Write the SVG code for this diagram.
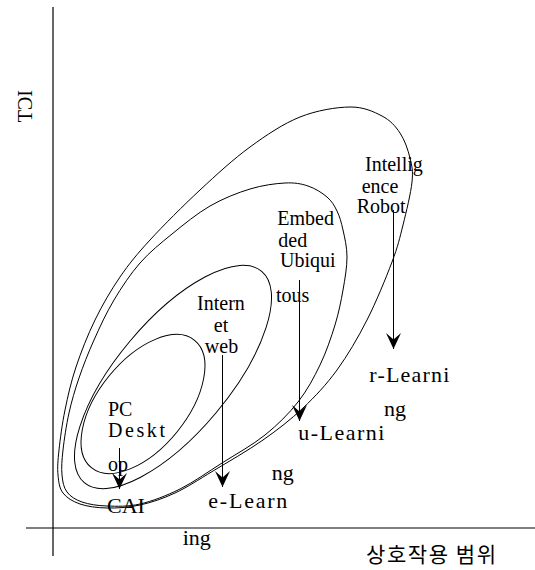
<svg xmlns="http://www.w3.org/2000/svg" width="535" height="570" viewBox="0 0 535 570">
<style>
.c{fill:none;stroke:#000;stroke-width:1}
.ax{fill:none;stroke:#000;stroke-width:1.2}
.ar{fill:none;stroke:#000;stroke-width:1;marker-end:url(#ah)}
.t{font-family:"Liberation Serif","Times New Roman",serif;font-size:20px;fill:#000}
.b{font-size:22px}
.k{font-family:"Noto Sans CJK KR","Noto Sans",sans-serif;font-size:21px;fill:#000}
</style>
<defs>
<marker id="ah" markerUnits="userSpaceOnUse" markerWidth="18" markerHeight="18" viewBox="-17 -9 18 18" refX="0" refY="0" orient="auto">
<path d="M0,0 L-16,-7.5 L-9.5,0 L-16,7.5 Z" fill="#000"/>
</marker>
</defs>
<g id="axes">
<line class="ax" x1="53" y1="7" x2="53" y2="556"/>
<line class="ax" x1="26" y1="528" x2="535" y2="528"/>
<text class="t" transform="matrix(0 1 1 0 31.5 90)" font-size="27">ICT</text>
<text class="k" x="366" y="562" textLength="130">상호작용 범위</text>
</g>
<g id="r-learning">
<path class="c" d="M350,107 C363.67,106.83 373.67,111.67 382,116 C390.33,120.33 395.33,126 400,133 C404.67,140 408,149.83 410,158 C412,166.17 413.17,170.83 412,182 C410.83,193.17 406.33,211.67 403,225 C399.67,238.33 398,246.17 392,262 C386,277.83 376.17,302 367,320 C357.83,338 347.67,355.33 337,370 C326.33,384.67 315.33,396.33 303,408 C290.67,419.67 278,429.5 263,440 C248,450.5 227.67,462.17 213,471 C198.33,479.83 187.17,487.33 175,493 C162.83,498.67 151.33,502.5 140,505 C128.67,507.5 117,508.17 107,508 C97,507.83 87.33,506.5 80,504 C72.67,501.5 66.67,497.83 63,493 C59.33,488.17 58.67,482.17 58,475 C57.33,467.83 57.83,460.83 59,450 C60.17,439.17 62.17,423.83 65,410 C67.83,396.17 71,382 76,367 C81,352 87.67,335 95,320 C102.33,305 110.83,290.33 120,277 C129.17,263.67 136.67,254.5 150,240 C163.33,225.5 183.33,205.5 200,190 C216.67,174.5 233.33,159.17 250,147 C266.67,134.83 283.33,123.67 300,117 C316.67,110.33 336.33,107.17 350,107 Z"/>
<text class="t" x="365" y="171">Intellig</text>
<text class="t" x="361.7" y="192.5">ence</text>
<text class="t" x="356.7" y="213">Robot</text>
<text class="t b" x="369.3" y="381.5" textLength="80">r-Learni</text>
<text class="t b" x="384" y="416">ng</text>
</g>
<g id="u-learning">
<path class="c" d="M285,183 C294.67,182.5 301,183.67 308,186 C315,188.33 322.17,192.83 327,197 C331.83,201.17 334.33,205.5 337,211 C339.67,216.5 341.33,222.33 343,230 C344.67,237.67 347,247 347,257 C347,267 345,278.67 343,290 C341,301.33 338.83,312.5 335,325 C331.17,337.5 326.17,352.17 320,365 C313.83,377.83 307.17,390.33 298,402 C288.83,413.67 277.67,424.83 265,435 C252.33,445.17 236.17,454 222,463 C207.83,472 193.67,482.17 180,489 C166.33,495.83 152.17,501.17 140,504 C127.83,506.83 116.67,506.33 107,506 C97.33,505.67 88.67,504.33 82,502 C75.33,499.67 70.33,496.5 67,492 C63.67,487.5 62.67,482 62,475 C61.33,468 61.83,460.33 63,450 C64.17,439.67 66.33,425 69,413 C71.67,401 74.83,390.17 79,378 C83.17,365.83 88.17,353 94,340 C99.83,327 106.33,312.83 114,300 C121.67,287.17 130.33,274 140,263 C149.67,252 160.33,243.5 172,234 C183.67,224.5 197,213.5 210,206 C223,198.5 237.5,192.83 250,189 C262.5,185.17 275.33,183.5 285,183 Z"/>
<text class="t" x="277.3" y="225">Embed</text>
<text class="t" x="278.3" y="246.5">ded</text>
<text class="t" x="280" y="267">Ubiqui</text>
<text class="t" x="276" y="302">tous</text>
<text class="t b" x="298.3" y="440" textLength="86">u-Learni</text>
<text class="t b" x="271.7" y="479.5">ng</text>
</g>
<g id="e-learning">
<ellipse class="c" cx="173" cy="377" rx="138" ry="56" transform="rotate(-50 173 377)"/>
<text class="t" x="221" y="310" text-anchor="middle">Intern</text>
<text class="t" x="221" y="331.5" text-anchor="middle">et</text>
<text class="t" x="221.5" y="352.5" text-anchor="middle">web</text>
<text class="t b" x="208.3" y="507.5" textLength="79">e-Learn</text>
<text class="t b" x="182.7" y="545">ing</text>
</g>
<g id="cai">
<ellipse class="c" cx="143" cy="404" rx="82" ry="44" transform="rotate(-51 143 404)"/>
<text class="t" x="108" y="416">PC</text>
<text class="t" x="108" y="437" textLength="57">Deskt</text>
<text class="t" x="108" y="471">op</text>
<text class="t b" x="107" y="513">CAI</text>
</g>
<g id="connectors">
<line class="ar" x1="119.5" y1="448" x2="119.5" y2="489"/>
<line class="ar" x1="222.5" y1="355" x2="222.5" y2="487"/>
<line class="ar" x1="299.5" y1="280" x2="299.5" y2="421"/>
<line class="ar" x1="393.5" y1="210" x2="393.5" y2="349"/>
</g>
</svg>
